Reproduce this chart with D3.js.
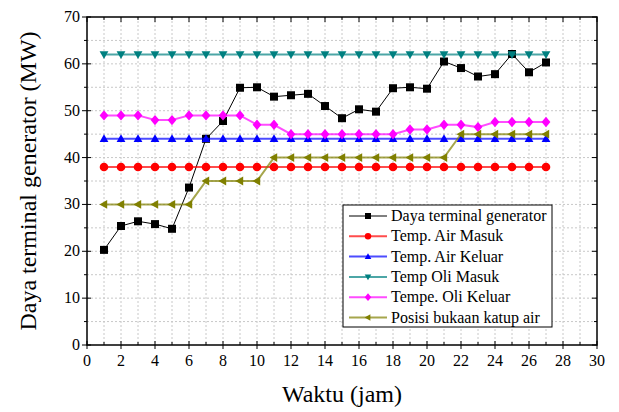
<!DOCTYPE html>
<html>
<head>
<meta charset="utf-8">
<script src="https://cdn.jsdelivr.net/npm/d3@7"></script>
<style>
  body { margin: 0; background: #fff; }
  text { font-family: "Liberation Serif", "Times New Roman", serif; fill: #000; }
</style>
</head>
<body>
<svg id="chart" width="619" height="412"></svg>
<script>
// hours (x values)
const hours = d3.range(1, 28);

// series values
const dayaGenerator = [20.3, 25.4, 26.4, 25.8, 24.8, 33.6, 44, 47.8, 54.9, 55, 53, 53.3, 53.6, 51, 48.4,
  50.3, 49.8, 54.8, 55, 54.7, 60.5, 59.1, 57.3, 57.8, 62.1, 58.2, 60.3];
const airMasuk = hours.map(() => 38);
const airKeluar = hours.map(() => 44);
const oliMasuk = hours.map(() => 62);
const oliKeluar = [49, 49, 49, 48, 48, 49, 49, 49, 49, 47, 47, 45, 45, 45, 45,
  45, 45, 45, 46, 46, 47, 47, 46.5, 47.6, 47.6, 47.6, 47.6];
const bukaanKatup = [30, 30, 30, 30, 30, 30, 35, 35, 35, 35, 40, 40, 40, 40, 40,
  40, 40, 40, 40, 40, 40, 45, 45, 45, 45, 45, 45];

const seriesNames = ["Daya terminal generator", "Temp. Air Masuk", "Temp. Air Keluar",
  "Temp Oli Masuk", "Tempe. Oli Keluar", "Posisi bukaan katup air"];
const seriesValues = [dayaGenerator, airMasuk, airKeluar, oliMasuk, oliKeluar, bukaanKatup];
const seriesColors = ["#000000", "#ff0000", "#0000ff", "#008080", "#ff00ff", "#808000"];
const seriesSymbols = ["square", "circle", "triUp", "triDown", "diamond", "triLeft"];

const xTicks = d3.range(0, 31, 2);
const yTicks = d3.range(0, 71, 10);

const margin = { top: 17, right: 22, bottom: 67, left: 87 };
const W = 619, H = 412;
const width = W - margin.left - margin.right;
const height = H - margin.top - margin.bottom;

const svg = d3.select("#chart");
const g = svg.append("g").attr("transform", `translate(${margin.left},${margin.top})`);

const x = d3.scaleLinear().domain([0, 30]).range([0, width]);
const y = d3.scaleLinear().domain([0, 70]).range([height, 0]);

// dotted grid
g.append("g").selectAll("line")
  .data(d3.range(1, 30))
  .join("line")
  .attr("x1", d => x(d)).attr("x2", d => x(d))
  .attr("y1", 0).attr("y2", height)
  .attr("stroke", "#c8c8c8").attr("stroke-dasharray", "2,2");
g.append("g").selectAll("line")
  .data(d3.range(5, 70, 5))
  .join("line")
  .attr("y1", d => y(d)).attr("y2", d => y(d))
  .attr("x1", 0).attr("x2", width)
  .attr("stroke", "#c8c8c8").attr("stroke-dasharray", "2,2");

// symbols
function symbolPath(type, s) {
  switch (type) {
    case "square": return `M${-s},${-s}H${s}V${s}H${-s}Z`;
    case "circle": return d3.symbol(d3.symbolCircle, Math.PI * s * s * 1.15)();
    case "triUp": return `M0,${-s * 1.15}L${s * 1.1},${s * 0.8}L${-s * 1.1},${s * 0.8}Z`;
    case "triDown": return `M0,${s * 1.15}L${s * 1.1},${-s * 0.8}L${-s * 1.1},${-s * 0.8}Z`;
    case "triLeft": return `M${-s * 1.15},0L${s * 0.8},${-s * 1.1}L${s * 0.8},${s * 1.1}Z`;
    case "diamond": return `M0,${-s * 1.3}L${s * 1.1},0L0,${s * 1.3}L${-s * 1.1},0Z`;
  }
}

const line = d3.line().x((d, i) => x(hours[i])).y(d => y(d));

seriesValues.forEach((vals, k) => {
  const sg = g.append("g");
  sg.append("path")
    .datum(vals)
    .attr("d", line)
    .attr("fill", "none")
    .attr("stroke", seriesColors[k])
    .attr("stroke-opacity", k === 0 ? 1 : 0.7)
    .attr("stroke-width", k === 0 ? 1 : 2);
  sg.selectAll("path.m")
    .data(vals)
    .join("path")
    .attr("class", "m")
    .attr("transform", (d, i) => `translate(${x(hours[i])},${y(d)})`)
    .attr("d", symbolPath(seriesSymbols[k], 4))
    .attr("fill", seriesColors[k]);
});

// frame
g.append("rect").attr("width", width).attr("height", height)
  .attr("fill", "none").attr("stroke", "#000").attr("stroke-width", 1.5);

// ticks
const xAxisG = g.append("g").attr("stroke", "#000");
d3.range(0, 31).forEach(v => {
  const major = v % 2 === 0;
  xAxisG.append("line").attr("x1", x(v)).attr("x2", x(v))
    .attr("y1", height - (major ? 4 : 3)).attr("y2", height + (major ? 4 : 0));
  xAxisG.append("line").attr("x1", x(v)).attr("x2", x(v))
    .attr("y1", 0).attr("y2", major ? 5 : 3);
});
const yAxisG = g.append("g").attr("stroke", "#000");
d3.range(0, 71, 5).forEach(v => {
  const major = v % 10 === 0;
  yAxisG.append("line").attr("y1", y(v)).attr("y2", y(v))
    .attr("x1", major ? -5 : -3).attr("x2", major ? 4 : 0);
  yAxisG.append("line").attr("y1", y(v)).attr("y2", y(v))
    .attr("x1", width).attr("x2", width - (major ? 5 : 3));
});

// tick labels
g.append("g").selectAll("text")
  .data(xTicks)
  .join("text")
  .attr("x", d => x(d)).attr("y", height + 21)
  .attr("text-anchor", "middle")
  .attr("font-size", 16)
  .text(d => d);
g.append("g").selectAll("text")
  .data(yTicks)
  .join("text")
  .attr("x", -7).attr("y", d => y(d) + 5)
  .attr("text-anchor", "end")
  .attr("font-size", 16)
  .text(d => d);

// axis titles
g.append("text")
  .attr("x", width / 2).attr("y", height + 57)
  .attr("text-anchor", "middle")
  .attr("font-size", 24)
  .text("Waktu (jam)");
svg.append("text")
  .attr("transform", `translate(36,${margin.top + height / 2}) rotate(-90)`)
  .attr("text-anchor", "middle")
  .attr("font-size", 24)
  .text("Daya terminal generator (MW)");

// legend
const lg = svg.append("g").attr("transform", "translate(343,205)");
lg.append("rect").attr("width", 209).attr("height", 122)
  .attr("fill", "#fff").attr("stroke", "#000").attr("stroke-width", 1);
seriesNames.forEach((name, k) => {
  const ry = 11 + k * 20.3;
  lg.append("line").attr("x1", 6).attr("x2", 44).attr("y1", ry).attr("y2", ry)
    .attr("stroke", seriesColors[k])
    .attr("stroke-opacity", k === 0 ? 1 : 0.7)
    .attr("stroke-width", k === 0 ? 1 : 2);
  lg.append("path").attr("transform", `translate(25,${ry})`)
    .attr("d", symbolPath(seriesSymbols[k], 3))
    .attr("fill", seriesColors[k]);
  lg.append("text").attr("x", 48).attr("y", ry + 5)
    .attr("font-size", 16)
    .text(name);
});
</script>
</body>
</html>
